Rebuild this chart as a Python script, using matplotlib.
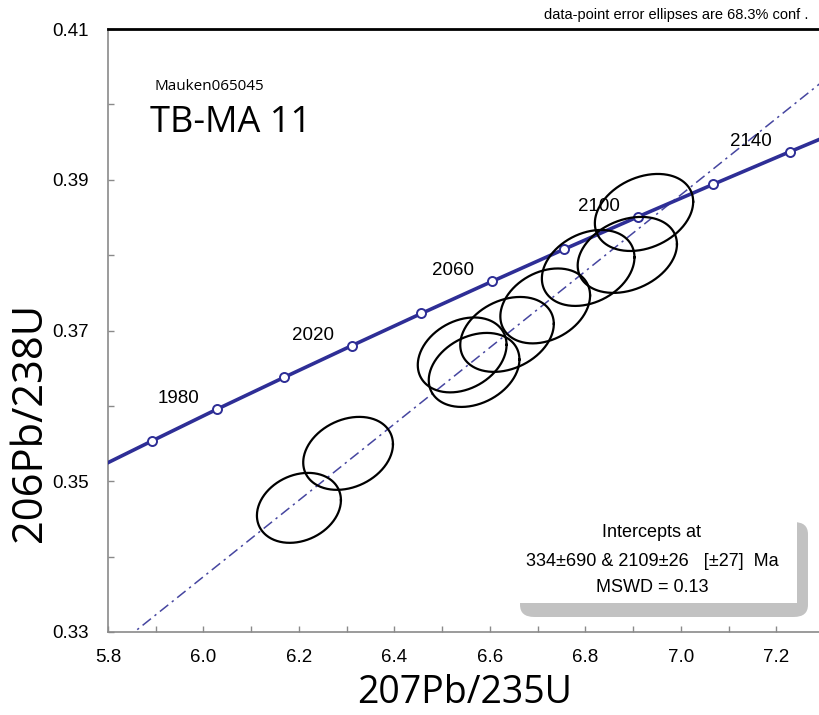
import numpy as np
import matplotlib
matplotlib.use("Agg")
import matplotlib.pyplot as plt
from matplotlib.patches import Rectangle, FancyBboxPatch
from matplotlib.ticker import MultipleLocator, FixedLocator

# concordia age markers (Ma) and their ratios
ages = [1940, 1960, 1980, 2000, 2020, 2040, 2060, 2080, 2100, 2120, 2140, 2160]
conc_x = [5.7572, 5.8916, 6.0287, 6.1685, 6.3111, 6.4566, 6.6049, 6.7562, 6.9104, 7.0678, 7.2283, 7.3920]
conc_y = [0.35113, 0.35533, 0.35957, 0.36377, 0.36800, 0.37226, 0.37652, 0.38080, 0.38509, 0.38939, 0.39371, 0.39804]
labelled_ages = [1980, 2020, 2060, 2100, 2140]

# discordia line end points
disc_x = [5.80, 7.35]
disc_y = [0.32721, 0.40572]

# data-point error ellipses: centre, half widths, correlation
ell_x = [6.200, 6.303, 6.567, 6.542, 6.636, 6.716, 6.806, 6.888, 6.923]
ell_y = [0.34647, 0.35370, 0.36477, 0.36676, 0.36948, 0.37326, 0.37830, 0.38003, 0.38566]
ell_sx = [0.088, 0.094, 0.095, 0.093, 0.098, 0.094, 0.097, 0.104, 0.103]
ell_sy = [0.00464, 0.00484, 0.00491, 0.00497, 0.00497, 0.00497, 0.00504, 0.00504, 0.00511]
ell_rho = [0.22, 0.25, 0.28, 0.27, 0.28, 0.28, 0.28, 0.28, 0.28]

y_labels = [0.33, 0.35, 0.37, 0.39, 0.41]
y_minor = [0.34, 0.36, 0.38, 0.40]

blue = "#2e2e96"
arial = "Liberation Sans"
myriad = "Open Sans"

fig = plt.figure(figsize=(8.19, 7.15), dpi=100)
ax = fig.add_axes([108 / 819, 83 / 715, 711 / 819, 603 / 715])
ax.set_xlim(5.8, 7.2896)
ax.set_ylim(0.33, 0.41)

# discordia
ax.plot(disc_x, disc_y, color="#4646a0", lw=1.1, linestyle=(0, (7, 3, 1.5, 3)), zorder=2)

# concordia curve with age markers
ax.plot(conc_x, conc_y, color=blue, lw=2.6, zorder=3,
        marker="o", markersize=6.5, markerfacecolor="white",
        markeredgecolor=blue, markeredgewidth=1.4)
for a, x, y in zip(ages, conc_x, conc_y):
    if a in labelled_ages:
        ax.annotate(str(a), (x, y), xytext=(-28, 7.5), textcoords="offset points",
                    ha="center", va="center", fontsize=13.5, family=arial, zorder=4)

# error ellipses
t = np.linspace(0, 2 * np.pi, 300)
for cx, cy, sx, sy, r in zip(ell_x, ell_y, ell_sx, ell_sy, ell_rho):
    ex = cx + sx * np.cos(t)
    ey = cy + sy * (r * np.cos(t) + np.sqrt(1 - r * r) * np.sin(t))
    ax.plot(ex, ey, color="black", lw=1.6, zorder=5)

# spines and ticks
ax.spines["right"].set_visible(False)
ax.spines["top"].set_color("black")
ax.spines["top"].set_linewidth(2.0)
for s in ["left", "bottom"]:
    ax.spines[s].set_color("#8a8a8a")
    ax.spines[s].set_linewidth(1.2)

ax.xaxis.set_major_locator(MultipleLocator(0.2))
ax.xaxis.set_minor_locator(MultipleLocator(0.1))
ax.yaxis.set_major_locator(FixedLocator(y_labels))
ax.yaxis.set_minor_locator(FixedLocator(y_minor))
ax.tick_params(which="both", direction="in", length=4, width=1, color="#8a8a8a",
               top=False, right=False)
ax.tick_params(axis="x", pad=12, labelsize=13.5)
ax.tick_params(axis="y", pad=14, labelsize=13.5)
ax.set_xticklabels([f"{v:.1f}" for v in ax.get_xticks()], family=arial)
ax.set_yticklabels([f"{v:.2f}" for v in y_labels], family=arial)

# axis titles
fig.text(465 / 819, 1 - 693 / 715, "207Pb/235U", ha="center", va="center",
         fontsize=27, family=myriad)
fig.text(30 / 819, 1 - 422 / 715, "206Pb/238U", ha="center", va="center",
         fontsize=30, family=myriad, rotation=90)

# titles inside plot
fig.text(154 / 819, 1 - 86 / 715, "Mauken065045", ha="left", va="center",
         fontsize=11, family=myriad)
fig.text(150 / 819, 1 - 123 / 715, "TB-MA 11", ha="left", va="center",
         fontsize=26, family=myriad)
fig.text(808 / 819, 1 - 15 / 715, "data-point error ellipses are 68.3% conf .",
         ha="right", va="center", fontsize=10.5, family=arial)

# intercept box with shadow
shadow = FancyBboxPatch((0.5795, 0.0249), 0.405, 0.1575,
                        boxstyle="round,pad=0,rounding_size=0.02",
                        transform=ax.transAxes, facecolor="#c2c2c2",
                        edgecolor="none", zorder=6)
box = Rectangle((0.5584, 0.0481), 0.4107, 0.1575, transform=ax.transAxes,
                facecolor="white", edgecolor="none", zorder=7)
ax.add_patch(shadow)
ax.add_patch(box)
ax.text(0.765, 0.1642, "Intercepts at", transform=ax.transAxes, ha="center",
        va="center", fontsize=13, family=arial, zorder=8)
ax.text(0.765, 0.1161, "334±690 & 2109±26   [±27]  Ma", transform=ax.transAxes,
        ha="center", va="center", fontsize=13, family=arial, zorder=8)
ax.text(0.765, 0.073, "MSWD = 0.13", transform=ax.transAxes, ha="center",
        va="center", fontsize=13, family=arial, zorder=8)

fig.savefig("out.png", dpi=100)
